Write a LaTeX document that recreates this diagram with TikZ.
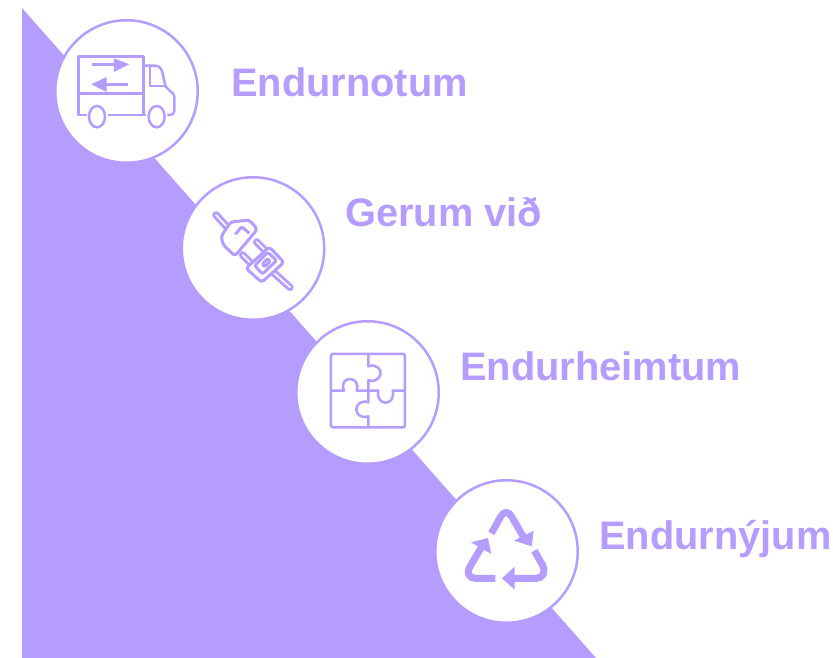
\documentclass[tikz,border=0pt]{standalone}
\usepackage{fontspec}
\setmainfont{Liberation Sans}
\definecolor{lila}{HTML}{B59CFF}
\tikzset{
  ring/.style={circle,draw=lila,fill=white,line width=2.5pt,minimum size=142.5pt,inner sep=0pt},
  lab/.style={anchor=base west,text=lila,font=\fontsize{39.8}{44}\selectfont\bfseries,inner sep=0pt},
  ico/.style={draw=lila,line width=2.5pt,line join=round},
  plg/.style={draw=lila,line width=3pt,line join=round},
  pin/.style={draw=lila,line width=7.5pt,line cap=round},
  pinin/.style={draw=white,line width=1.6pt,line cap=round},
  rec/.style={draw=lila,line width=7pt,line join=round},
  tip/.style={fill=lila,draw=none}
}
\begin{document}
\begin{tikzpicture}[x=1pt,y=-1pt]
\useasboundingbox (0,0) rectangle (833,658);
\fill[lila] (22,8) -- (22,658) -- (596,658) -- cycle;
\node[ring] (c1) at (126.5,91.5) {};
\node[ring] (c2) at (253,248.5) {};
\node[ring] (c3) at (367.5,392.5) {};
\node[ring] (c4) at (506.5,551.5) {};
\node[lab] (t1) at (231,97) {Endurnotum};
\node[lab] (t2) at (345,226) {Gerum við};
\node[lab] (t3) at (460,380) {Endurheimtum};
\node[lab] (t4) at (599,549) {Endurnýjum};
% truck
\begin{scope}[shift={(50,10)},x=0.3333pt,y=-0.3333pt]
\draw[ico] (110,315) -- (85,315) -- (85,140) -- (280,140) -- (280,315);
\draw[ico] (175,315) -- (287,315);
\draw[ico] (85,250) -- (280,250);
\draw[ico] (141,320) ellipse [x radius=24,y radius=32];
\draw[ico] (320,320) ellipse [x radius=24,y radius=32];
\draw[ico] (280,167) -- (315,167) .. controls (328,167) and (335,177) .. (337,187) -- (347,230) -- (368,250) .. controls (372,254) and (373,258) .. (373,262) -- (373,303) .. controls (373,311) and (367,315) .. (360,315) -- (352,315);
\draw[ico] (300,167) -- (300,228) -- (347,228);
\draw[ico] (127,163) -- (195,163);
\fill[tip] (192,145) -- (238,163) -- (192,186) -- cycle;
\draw[ico] (235,223) -- (168,223);
\fill[tip] (170,201) -- (124,223) -- (170,246) -- cycle;
\end{scope}
% plug
\begin{scope}[shift={(180,175)},x=0.3333pt,y=-0.3333pt]
\draw[pin] (108,120) -- (145,160);
\draw[pinin] (108,120) -- (145,160);
\draw[pin] (188,240) -- (225,277);
\draw[pinin] (188,240) -- (225,277);
\draw[pin] (230,201) -- (265,236);
\draw[pinin] (230,201) -- (265,236);
\draw[pin] (278,290) -- (330,337);
\draw[pinin] (278,290) -- (330,337);
\draw[plg,fill=white,rounded corners=3pt] (152,141) -- (208,135) -- (232,163) -- (165,243) -- (130,210) -- (123,185) -- cycle;
\draw[plg,rounded corners=2pt] (166,178) -- (185,155) -- (208,175);
\draw[plg,fill=white,rounded corners=3pt] (198,280) -- (268,216) -- (312,262) -- (245,322) -- cycle;
\draw[plg,rounded corners=2pt] (224,272) -- (263,232) -- (290,256) -- (248,297) -- cycle;
\draw[plg,rounded corners=1.5pt] (246,268) -- (263,251) -- (271,258) -- (254,276) -- cycle;
\end{scope}
% puzzle
\begin{scope}[shift={(295,320)},x=0.3333pt,y=-0.3333pt]
\draw[ico,rounded corners=1.5pt] (108,102) rectangle (330,322);
\draw[ico] (220,102) -- (220,139) .. controls (245,130) and (262,150) .. (256,165) .. controls (250,180) and (235,186) .. (220,181) -- (220,212);
\draw[ico] (108,212) -- (147,212) .. controls (138,190) and (150,177) .. (165,177) .. controls (180,177) and (192,190) .. (185,212) -- (250,212) .. controls (245,235) and (258,248) .. (272,248) .. controls (286,248) and (298,235) .. (293,212) -- (330,212);
\draw[ico] (220,212) -- (220,247) .. controls (200,240) and (184,252) .. (184,268) .. controls (184,284) and (200,296) .. (220,289) -- (220,322);
\end{scope}
% recycle
\begin{scope}[shift={(433,480)},x=0.3333pt,y=-0.3333pt]
\draw[rec] (175,160) -- (203,110) .. controls (212,93) and (227,93) .. (236,110) -- (272,172);
\fill[tip] (302,152) -- (296,199) -- (243,182) -- cycle;
\draw[rec] (187,295) -- (128,295) .. controls (108,295) and (100,280) .. (110,262) -- (146,200);
\fill[tip] (114,187) -- (165,174) -- (175,222) -- cycle;
\draw[rec] (304,212) -- (328,254) .. controls (340,275) and (330,295) .. (310,295) -- (240,295);
\fill[tip] (245,260) -- (207,295) -- (245,329) -- cycle;
\end{scope}
\end{tikzpicture}
\end{document}
